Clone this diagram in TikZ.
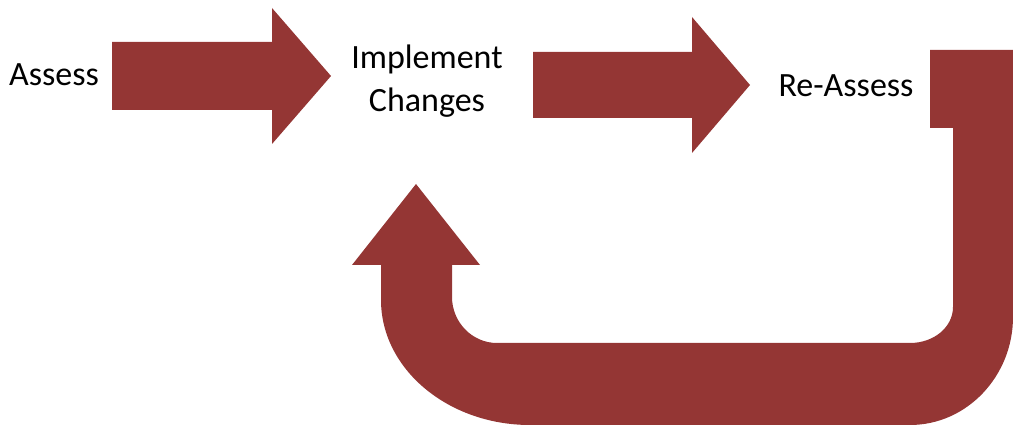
\documentclass[tikz,border=0pt]{standalone}
\usepackage{fontspec}
\setmainfont{Carlito}
\definecolor{arrowred}{RGB}{148,54,52}
\begin{document}
\begin{tikzpicture}[x=0.5pt,y=-0.5pt,
  blockarrow/.style={fill=arrowred,draw=none},
  label/.style={font=\fontsize{17}{21.5}\selectfont,inner sep=0pt,align=center,text=black}]
\useasboundingbox (0,0) rectangle (1013,427);
% labels
\node[label] (assess) at (54,75) {Assess};
\node[label] (impl) at (427,81) {Implement\\Changes};
\node[label] (reassess) at (846,86) {Re-Assess};
% arrow 1
\fill[blockarrow] (112,42) -- (272,42) -- (272,8) -- (331,76) -- (272,144) -- (272,110) -- (112,110) -- cycle;
% arrow 2
\fill[blockarrow] (533,52) -- (692,52) -- (692,17) -- (750,85) -- (692,153) -- (692,118) -- (533,118) -- cycle;
% U-turn arrow
\fill[blockarrow] (930,50) -- (1013,50) -- (1013,317)
  .. controls (1013,376) and (967,425) .. (910,425)
  -- (530,425)
  .. controls (448,425) and (381,369) .. (381,300)
  -- (381,265) -- (352,265) -- (416,184) -- (480,265) -- (452,265) -- (452,297)
  .. controls (452,322) and (472,343) .. (497,343)
  -- (910,343)
  .. controls (934,343) and (953,327) .. (953,307)
  -- (953,128) -- (930,128) -- cycle;
\end{tikzpicture}
\end{document}
